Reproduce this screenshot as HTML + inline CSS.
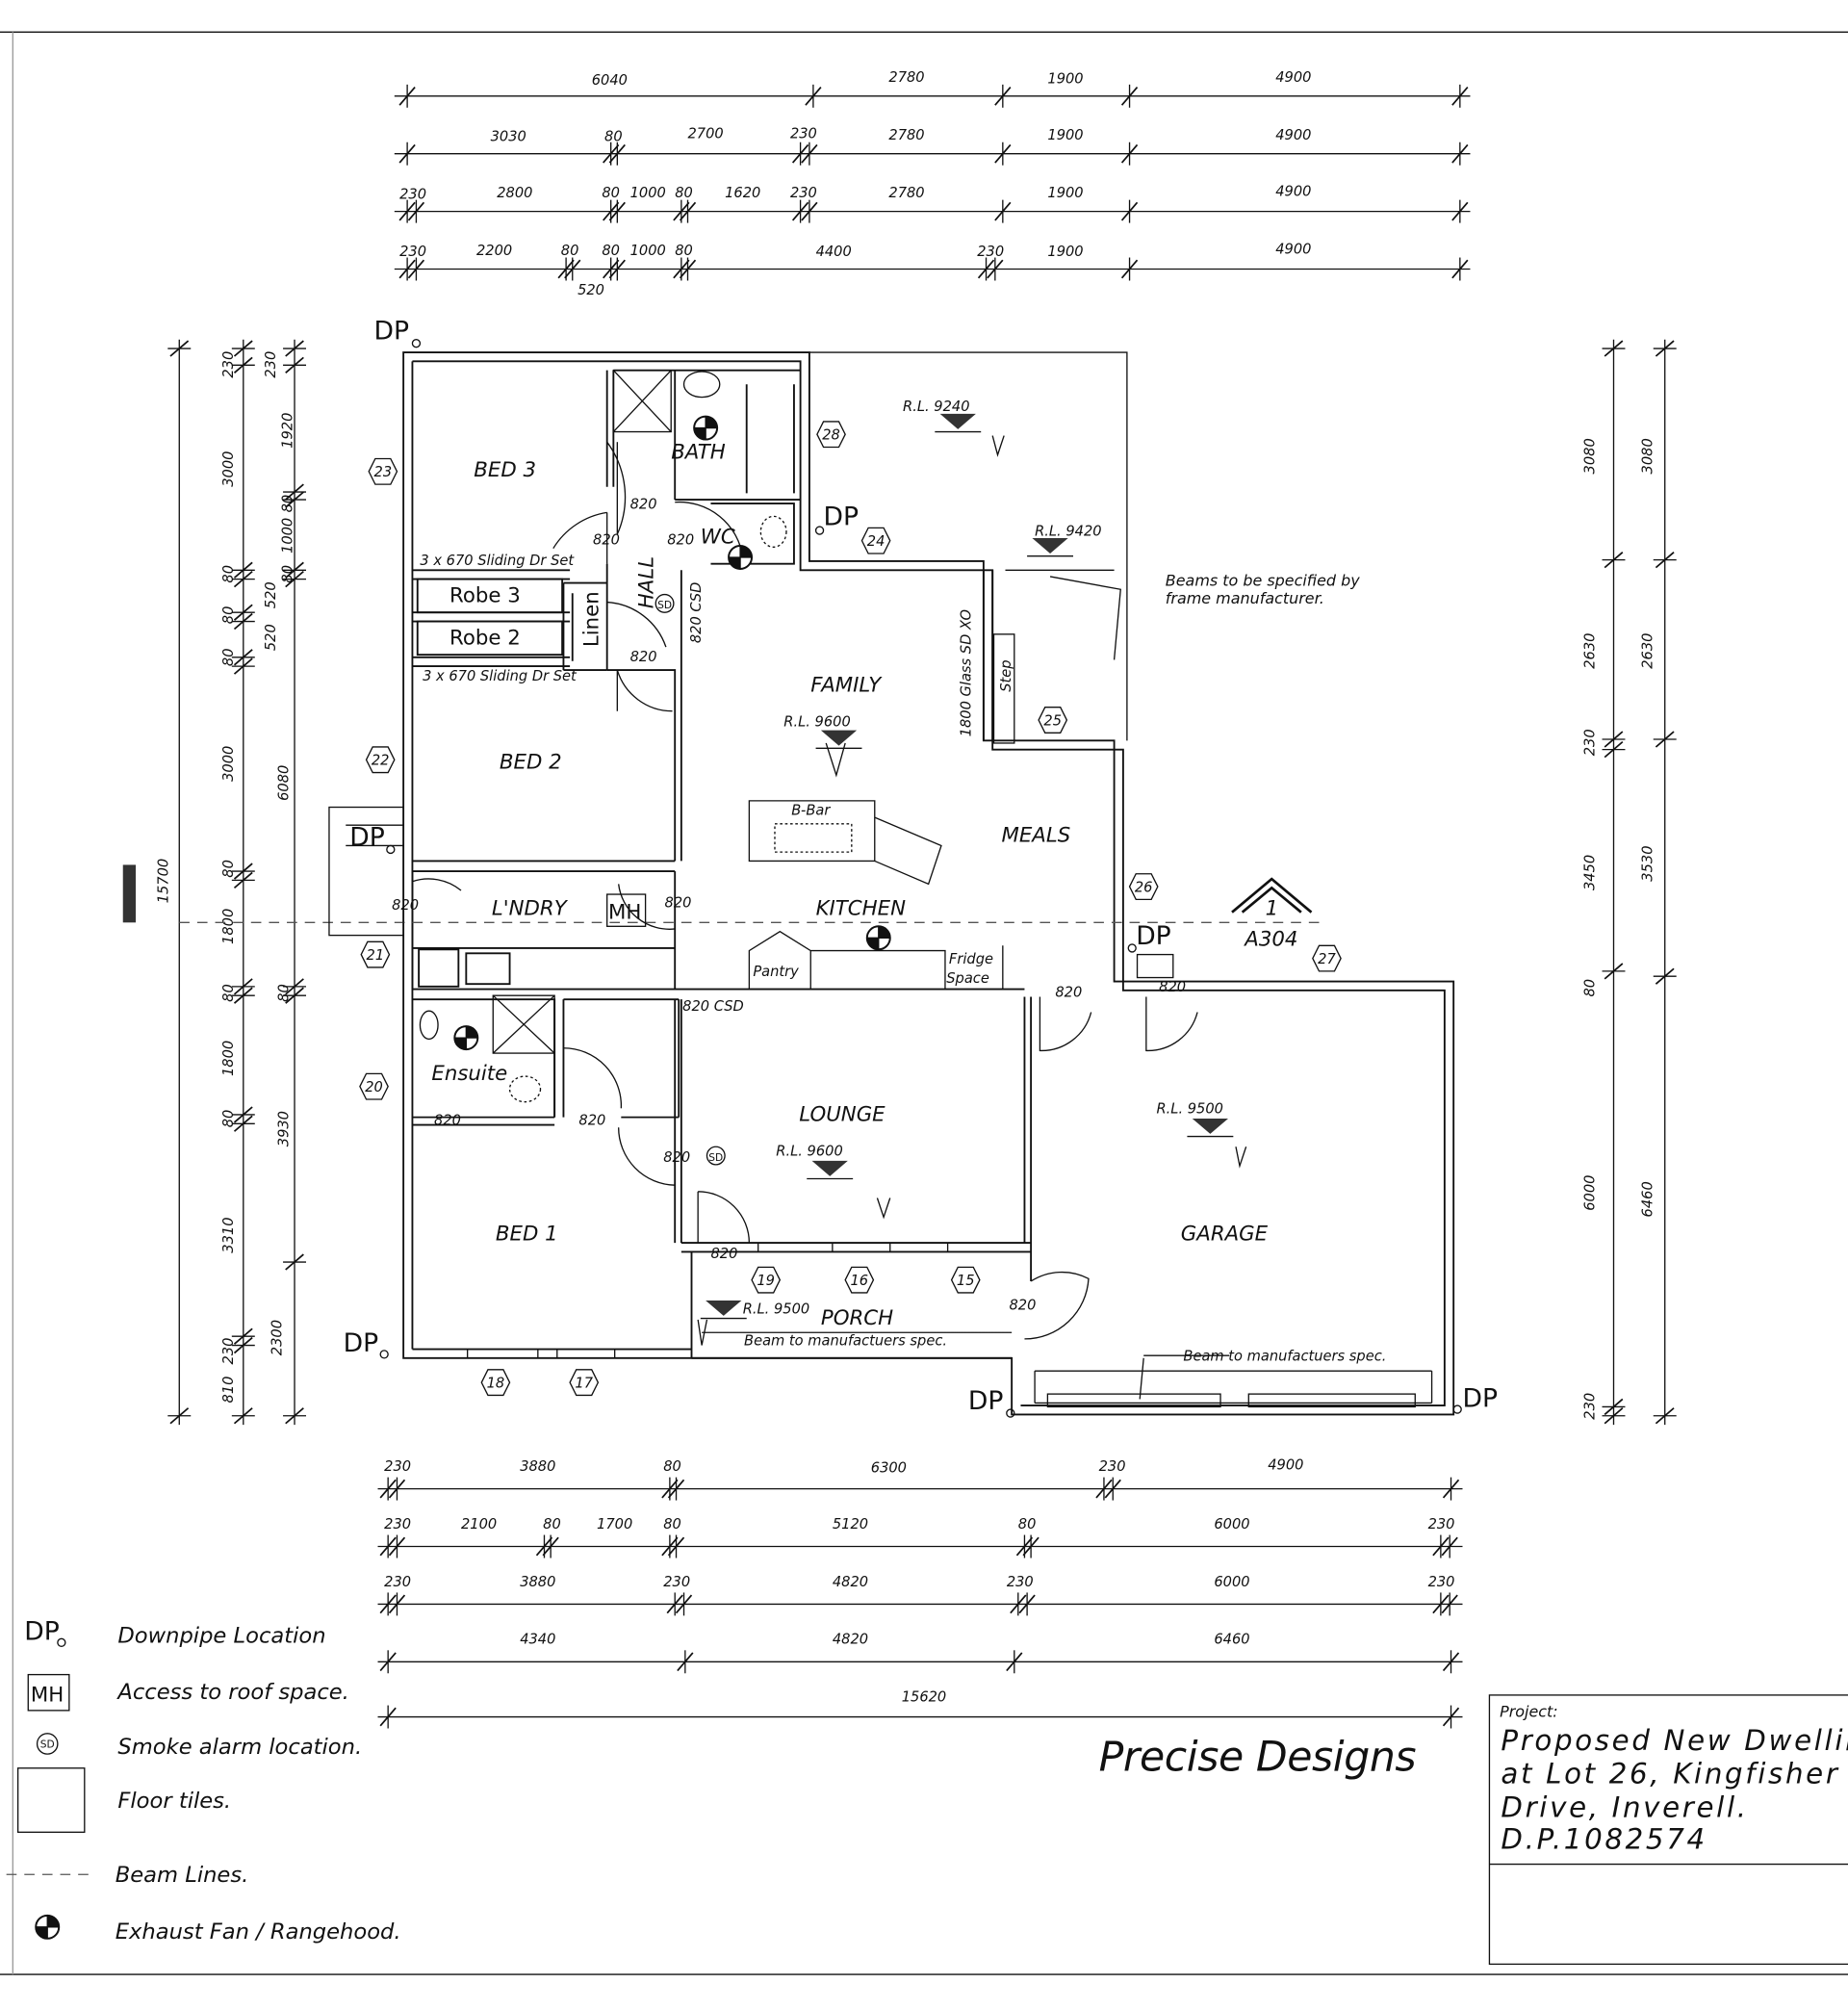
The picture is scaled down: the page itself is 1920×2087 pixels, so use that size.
<!DOCTYPE html>
<html><head><meta charset="utf-8"><style>
html,body{margin:0;padding:0;background:#fff}
svg{display:block}
text{font-family:"DejaVu Sans","Liberation Sans",sans-serif;fill:#111}
.d{font-size:11px;font-style:italic}
.r{font-size:16px;font-style:italic}
.s{font-size:11px;font-style:italic}
.l{font-size:17px;font-style:italic}
</style></head><body>
<svg width="1920" height="2087" viewBox="0 0 1443 1568" preserveAspectRatio="none" xmlns="http://www.w3.org/2000/svg">
<defs>
<g id="t"><line x1="-6" y1="7" x2="6" y2="-7" stroke="#111" stroke-width="1.3"/><line x1="0" y1="-9" x2="0" y2="9" stroke="#111" stroke-width="1"/></g>
<g id="tv"><line x1="-7" y1="6" x2="7" y2="-6" stroke="#111" stroke-width="1.3"/><line x1="-9" y1="0" x2="9" y2="0" stroke="#111" stroke-width="1"/></g>
<g id="hx"><polygon points="-6,-10 6,-10 11,0 6,10 -6,10 -11,0" fill="#fff" stroke="#111" stroke-width="1"/></g>
<g id="fan"><circle r="9" fill="#fff" stroke="#111" stroke-width="1.5"/><path d="M0,-9 A9,9 0 0 1 9,0 L0,0Z M0,9 A9,9 0 0 1 -9,0 L0,0Z" fill="#111"/><line x1="-9" y1="0" x2="9" y2="0" stroke="#111"/><line x1="0" y1="-9" x2="0" y2="9" stroke="#111"/></g>
<g id="rl"><polygon points="-14,0 14,0 0,12" fill="#333"/><line x1="-18" y1="14" x2="18" y2="14" stroke="#111"/></g>
</defs>
<g fill="none" stroke="#111">
<line x1="0" y1="25" x2="1443" y2="25" stroke-width="1"/>
<line x1="0" y1="1541" x2="1443" y2="1541"/>
<line x1="10" y1="25" x2="10" y2="1541" stroke="#999"/>
<!-- top dims -->
<line x1="308" y1="75" x2="1148" y2="75"/><line x1="308" y1="120" x2="1148" y2="120"/>
<line x1="308" y1="165" x2="1148" y2="165"/><line x1="308" y1="210" x2="1148" y2="210"/>
<!-- bottom dims -->
<line x1="295" y1="1162" x2="1142" y2="1162"/><line x1="295" y1="1207" x2="1142" y2="1207"/>
<line x1="295" y1="1252" x2="1142" y2="1252"/><line x1="295" y1="1297" x2="1142" y2="1297"/>
<line x1="295" y1="1340" x2="1142" y2="1340"/>
<!-- left/right verticals -->
<line x1="140" y1="265" x2="140" y2="1112"/><line x1="190" y1="265" x2="190" y2="1112"/><line x1="230" y1="265" x2="230" y2="1112"/>
<line x1="1260" y1="265" x2="1260" y2="1112"/><line x1="1300" y1="265" x2="1300" y2="1112"/>
</g>
<g>
<use href="#t" x="318" y="75"/><use href="#t" x="635" y="75"/><use href="#t" x="783" y="75"/><use href="#t" x="882" y="75"/><use href="#t" x="1140" y="75"/>
<use href="#t" x="318" y="120"/><use href="#t" x="477" y="120"/><use href="#t" x="482" y="120"/><use href="#t" x="625" y="120"/><use href="#t" x="632" y="120"/><use href="#t" x="783" y="120"/><use href="#t" x="882" y="120"/><use href="#t" x="1140" y="120"/>
<use href="#t" x="318" y="165"/><use href="#t" x="325" y="165"/><use href="#t" x="477" y="165"/><use href="#t" x="482" y="165"/><use href="#t" x="532" y="165"/><use href="#t" x="537" y="165"/><use href="#t" x="625" y="165"/><use href="#t" x="632" y="165"/><use href="#t" x="783" y="165"/><use href="#t" x="882" y="165"/><use href="#t" x="1140" y="165"/>
<use href="#t" x="318" y="210"/><use href="#t" x="325" y="210"/><use href="#t" x="442" y="210"/><use href="#t" x="447" y="210"/><use href="#t" x="477" y="210"/><use href="#t" x="482" y="210"/><use href="#t" x="532" y="210"/><use href="#t" x="537" y="210"/><use href="#t" x="770" y="210"/><use href="#t" x="777" y="210"/><use href="#t" x="882" y="210"/><use href="#t" x="1140" y="210"/>
<use href="#t" x="303" y="1162"/><use href="#t" x="310" y="1162"/><use href="#t" x="523" y="1162"/><use href="#t" x="528" y="1162"/><use href="#t" x="862" y="1162"/><use href="#t" x="869" y="1162"/><use href="#t" x="1133" y="1162"/>
<use href="#t" x="303" y="1207"/><use href="#t" x="310" y="1207"/><use href="#t" x="425" y="1207"/><use href="#t" x="430" y="1207"/><use href="#t" x="523" y="1207"/><use href="#t" x="528" y="1207"/><use href="#t" x="800" y="1207"/><use href="#t" x="805" y="1207"/><use href="#t" x="1125" y="1207"/><use href="#t" x="1132" y="1207"/>
<use href="#t" x="303" y="1252"/><use href="#t" x="310" y="1252"/><use href="#t" x="527" y="1252"/><use href="#t" x="534" y="1252"/><use href="#t" x="795" y="1252"/><use href="#t" x="802" y="1252"/><use href="#t" x="1125" y="1252"/><use href="#t" x="1132" y="1252"/>
<use href="#t" x="303" y="1297"/><use href="#t" x="535" y="1297"/><use href="#t" x="792" y="1297"/><use href="#t" x="1133" y="1297"/>
<use href="#t" x="303" y="1340"/><use href="#t" x="1133" y="1340"/>
<use href="#tv" x="140" y="272"/><use href="#tv" x="140" y="1105"/>
<use href="#tv" x="190" y="272"/><use href="#tv" x="190" y="285"/><use href="#tv" x="190" y="445"/><use href="#tv" x="190" y="452"/><use href="#tv" x="190" y="478"/><use href="#tv" x="190" y="485"/><use href="#tv" x="190" y="513"/><use href="#tv" x="190" y="520"/><use href="#tv" x="190" y="680"/><use href="#tv" x="190" y="687"/><use href="#tv" x="190" y="770"/><use href="#tv" x="190" y="777"/><use href="#tv" x="190" y="870"/><use href="#tv" x="190" y="877"/><use href="#tv" x="190" y="1043"/><use href="#tv" x="190" y="1050"/><use href="#tv" x="190" y="1105"/>
<use href="#tv" x="230" y="272"/><use href="#tv" x="230" y="285"/><use href="#tv" x="230" y="384"/><use href="#tv" x="230" y="390"/><use href="#tv" x="230" y="445"/><use href="#tv" x="230" y="452"/><use href="#tv" x="230" y="770"/><use href="#tv" x="230" y="777"/><use href="#tv" x="230" y="985"/><use href="#tv" x="230" y="1105"/>
<use href="#tv" x="1260" y="272"/><use href="#tv" x="1260" y="437"/><use href="#tv" x="1260" y="577"/><use href="#tv" x="1260" y="585"/><use href="#tv" x="1260" y="758"/><use href="#tv" x="1260" y="1098"/><use href="#tv" x="1260" y="1105"/>
<use href="#tv" x="1300" y="272"/><use href="#tv" x="1300" y="437"/><use href="#tv" x="1300" y="577"/><use href="#tv" x="1300" y="762"/><use href="#tv" x="1300" y="1105"/>
</g>
<g class="d">
<text x="462" y="66">6040</text><text x="694" y="64">2780</text><text x="818" y="65">1900</text><text x="996" y="64">4900</text>
<text x="383" y="110">3030</text><text x="472" y="110">80</text><text x="537" y="108">2700</text><text x="617" y="108">230</text><text x="694" y="109">2780</text><text x="818" y="109">1900</text><text x="996" y="109">4900</text>
<text x="312" y="155">230</text><text x="388" y="154">2800</text><text x="470" y="154">80</text><text x="492" y="154">1000</text><text x="527" y="154">80</text><text x="566" y="154">1620</text><text x="617" y="154">230</text><text x="694" y="154">2780</text><text x="818" y="154">1900</text><text x="996" y="153">4900</text>
<text x="312" y="200">230</text><text x="372" y="199">2200</text><text x="438" y="199">80</text><text x="470" y="199">80</text><text x="492" y="199">1000</text><text x="527" y="199">80</text><text x="637" y="200">4400</text><text x="763" y="200">230</text><text x="818" y="200">1900</text><text x="996" y="198">4900</text><text x="451" y="230">520</text>
<text x="300" y="1148">230</text><text x="406" y="1148">3880</text><text x="518" y="1148">80</text><text x="680" y="1149">6300</text><text x="858" y="1148">230</text><text x="990" y="1147">4900</text>
<text x="300" y="1193">230</text><text x="360" y="1193">2100</text><text x="424" y="1193">80</text><text x="466" y="1193">1700</text><text x="518" y="1193">80</text><text x="650" y="1193">5120</text><text x="795" y="1193">80</text><text x="948" y="1193">6000</text><text x="1115" y="1193">230</text>
<text x="300" y="1238">230</text><text x="406" y="1238">3880</text><text x="518" y="1238">230</text><text x="650" y="1238">4820</text><text x="786" y="1238">230</text><text x="948" y="1238">6000</text><text x="1115" y="1238">230</text>
<text x="406" y="1283">4340</text><text x="650" y="1283">4820</text><text x="948" y="1283">6460</text><text x="704" y="1328">15620</text>
</g>
<g class="d">
<text transform="translate(131,705) rotate(-90)">15700</text>
<text transform="translate(182,295) rotate(-90)">230</text><text transform="translate(182,380) rotate(-90)">3000</text><text transform="translate(182,455) rotate(-90)">80</text><text transform="translate(182,487) rotate(-90)">80</text><text transform="translate(182,520) rotate(-90)">80</text><text transform="translate(182,610) rotate(-90)">3000</text><text transform="translate(182,685) rotate(-90)">80</text><text transform="translate(182,737) rotate(-90)">1800</text><text transform="translate(182,782) rotate(-90)">80</text><text transform="translate(182,840) rotate(-90)">1800</text><text transform="translate(182,880) rotate(-90)">80</text><text transform="translate(182,978) rotate(-90)">3310</text><text transform="translate(182,1065) rotate(-90)">230</text><text transform="translate(182,1095) rotate(-90)">810</text>
<text transform="translate(215,295) rotate(-90)">230</text><text transform="translate(228,350) rotate(-90)">1920</text><text transform="translate(228,400) rotate(-90)">80</text><text transform="translate(228,432) rotate(-90)">1000</text><text transform="translate(228,455) rotate(-90)">80</text><text transform="translate(215,475) rotate(-90)">520</text><text transform="translate(215,508) rotate(-90)">520</text><text transform="translate(225,625) rotate(-90)">6080</text><text transform="translate(225,782) rotate(-90)">80</text><text transform="translate(225,895) rotate(-90)">3930</text><text transform="translate(220,1058) rotate(-90)">2300</text>
<text transform="translate(1245,370) rotate(-90)">3080</text><text transform="translate(1290,370) rotate(-90)">3080</text><text transform="translate(1245,522) rotate(-90)">2630</text><text transform="translate(1290,522) rotate(-90)">2630</text><text transform="translate(1245,590) rotate(-90)">230</text><text transform="translate(1245,695) rotate(-90)">3450</text><text transform="translate(1290,688) rotate(-90)">3530</text><text transform="translate(1245,778) rotate(-90)">80</text><text transform="translate(1245,945) rotate(-90)">6000</text><text transform="translate(1290,950) rotate(-90)">6460</text><text transform="translate(1245,1108) rotate(-90)">230</text>
</g>
<rect x="96" y="675" width="10" height="45" fill="#333"/>
<!-- walls -->
<g fill="none" stroke="#111" stroke-width="1.4">
<path d="M315,275 H632 V438 H768 V578 H870 V766 H1135 V1104 H790 V1060 H315 Z"/>
<path d="M322,282 H625 V445 H775 V585 H877 V773 H1128 V1097 H797"/>
<line x1="322" y1="282" x2="322" y2="1053"/>
<line x1="322" y1="1053" x2="540" y2="1053"/>
<!-- deck outline -->
<path d="M632,275 H880 V578" stroke-width="1"/>
<!-- interior -->
<path d="M322,445 H445 M322,452 H445 M322,478 H445 M322,485 H445 M322,513 H445 M322,520 H445"/>
<path d="M474,289 V380 M479,289 V380 M474,440 V455 M474,455 V523 M440,455 H474 M440,523 H474 M440,455 V523 M447,463 V516"/>
<rect x="326" y="452" width="113" height="26"/><rect x="326" y="485" width="113" height="26"/>
<path d="M479,289 H625 M527,289 V390 M527,390 H625 M583,300 V385 M620,300 V385"/>
<path d="M555,393 H620 V440 H555"/>
<path d="M474,523 H527 V672 M532,445 V672 M322,672 H527 M322,680 H527"/>
<path d="M322,680 L322,772 M527,680 V772 M322,740 H527 M322,772 H800"/>
<path d="M327,741 H358 V770 H327Z M364,744 H398 V768 H364Z"/>
<path d="M322,780 H433 V872 M440,780 H530 M530,780 V872 M485,872 H530 M322,872 H433 M322,878 H433"/>
<path d="M433,780 V872 M440,780 V872"/>
<path d="M527,780 V970 M532,780 V970 M532,970 H805 M532,977 H805 M800,778 V970 M805,778 V1000"/>
<path d="M540,977 V1060 M540,1060 H790"/>
<path d="M768,445 V578 M775,445 V578"/>
<rect x="776" y="495" width="16" height="85" stroke-width="1"/>
</g>
<g fill="none" stroke="#111" stroke-width="1">
<!-- doors -->
<path d="M474,345 A72,72 0 0 1 482,417" /><path d="M482,345 V417"/>
<path d="M474,400 A60,60 0 0 0 432,428 M474,400 V440"/>
<path d="M527,392 A50,50 0 0 1 580,435"/>
<path d="M474,470 A52,52 0 0 1 520,505"/>
<path d="M482,523 A45,45 0 0 0 525,555 M482,523 V555"/>
<path d="M322,688 A40,40 0 0 1 360,695"/>
<path d="M483,690 A40,40 0 0 0 527,725"/>
<path d="M440,818 A45,45 0 0 1 485,865"/>
<path d="M483,880 A45,45 0 0 0 527,925"/>
<path d="M545,930 A40,40 0 0 1 585,970 M545,930 V970"/>
<path d="M812,778 V820 A40,40 0 0 0 852,790"/>
<path d="M895,778 V820 A40,40 0 0 0 935,790"/>
<path d="M805,1000 A45,45 0 0 1 850,998 A50,50 0 0 1 800,1045"/>
<!-- bath items -->
<rect x="479" y="289" width="45" height="48"/><path d="M479,289 L524,337 M524,289 L479,337"/>
<ellipse cx="548" cy="300" rx="14" ry="10"/>
<rect x="385" y="777" width="48" height="45"/><path d="M385,777 L433,822 M433,777 L385,822"/>
<ellipse cx="335" cy="800" rx="7" ry="11"/>
<ellipse cx="410" cy="850" rx="12" ry="10" stroke-dasharray="2,2"/>
<ellipse cx="604" cy="415" rx="10" ry="12" stroke-dasharray="2,2"/>
<!-- kitchen -->
<path d="M585,625 H683 V672 H585 Z"/><path d="M683,638 L735,660 L725,690 L683,672"/>
<rect x="605" y="643" width="60" height="22" stroke-dasharray="2,2"/>
<path d="M585,742 V772 H633 V742 L609,727 Z"/><path d="M633,742 H738 V772 M738,742 V772 H783 V738"/>
<!-- porch/garage windows -->
<path d="M365,1053 V1060 M420,1053 V1060 M435,1053 V1060 M480,1053 V1060"/>
<path d="M592,970 V977 M650,970 V977 M695,970 V977 M740,970 V977"/>
<rect x="808" y="1070" width="310" height="25" stroke-dasharray="1,0"/>
<rect x="818" y="1088" width="135" height="10"/><rect x="975" y="1088" width="130" height="10"/>
<path d="M548,1040 H790" stroke-dasharray="1,0"/>
<!-- beam lines -->
<line x1="140" y1="720" x2="1030" y2="720" stroke-dasharray="8,6" stroke="#555"/>
<path d="M785,445 H870 M820,450 L875,460 L870,515" />
<!-- DP step-out -->
<rect x="257" y="630" width="58" height="100" />
<path d="M270,644 H315 M270,660 H315"/>
<rect x="888" y="745" width="28" height="18"/>
<!-- section arrow -->
<path d="M962,712 L993,686 L1024,712 M970,712 L993,693 L1016,712" stroke-width="2"/>
<!-- arrows -->
<path d="M775,340 L779,355 L784,340 M645,580 L653,605 L660,580 M685,935 L690,950 L695,935 M965,895 L968,910 L973,895 M545,1030 L548,1050 L552,1030"/>
<path d="M893,1060 L890,1092 M893,1058 L960,1058"/>
</g>
<g>
<use href="#rl" x="748" y="323"/><use href="#rl" x="820" y="420"/><use href="#rl" x="655" y="570"/><use href="#rl" x="648" y="906"/><use href="#rl" x="945" y="873"/><use href="#rl" x="565" y="1015"/>
<use href="#fan" x="551" y="334"/><use href="#fan" x="578" y="435"/><use href="#fan" x="686" y="732"/><use href="#fan" x="364" y="810"/>
<use href="#hx" x="299" y="368"/><use href="#hx" x="649" y="339"/><use href="#hx" x="684" y="422"/><use href="#hx" x="822" y="562"/><use href="#hx" x="297" y="593"/><use href="#hx" x="893" y="692"/><use href="#hx" x="293" y="745"/><use href="#hx" x="1036" y="748"/><use href="#hx" x="292" y="848"/><use href="#hx" x="598" y="999"/><use href="#hx" x="671" y="999"/><use href="#hx" x="754" y="999"/><use href="#hx" x="387" y="1079"/><use href="#hx" x="456" y="1079"/>
</g>
<g font-size="11" font-style="italic" text-anchor="middle">
<text x="299" y="372">23</text><text x="649" y="343">28</text><text x="684" y="426">24</text><text x="822" y="566">25</text><text x="297" y="597">22</text><text x="893" y="696">26</text><text x="293" y="749">21</text><text x="1036" y="752">27</text><text x="292" y="852">20</text><text x="598" y="1003">19</text><text x="671" y="1003">16</text><text x="754" y="1003">15</text><text x="387" y="1083">18</text><text x="456" y="1083">17</text>
</g>
<g fill="none" stroke="#111"><circle cx="325" cy="268" r="3"/><circle cx="305" cy="663" r="3"/><circle cx="640" cy="414" r="3"/><circle cx="884" cy="740" r="3"/><circle cx="300" cy="1057" r="3"/><circle cx="789" cy="1103" r="3"/><circle cx="1138" cy="1100" r="3"/><circle cx="519" cy="471" r="7"/><circle cx="559" cy="902" r="7"/></g>
<g font-size="20" font-family="Liberation Sans,sans-serif">
<text x="292" y="265">DP</text><text x="273" y="660">DP</text><text x="643" y="410">DP</text><text x="887" y="737">DP</text><text x="268" y="1055">DP</text><text x="756" y="1100">DP</text><text x="1142" y="1098">DP</text>
</g>
<g class="r">
<text x="370" y="372">BED 3</text><text x="524" y="358">BATH</text><text x="547" y="424">WC</text><text x="633" y="540">FAMILY</text><text x="390" y="600">BED 2</text><text x="782" y="657">MEALS</text><text x="384" y="714">L'NDRY</text><text x="637" y="714">KITCHEN</text><text x="337" y="843">Ensuite</text><text x="624" y="875">LOUNGE</text><text x="387" y="968">BED 1</text><text x="922" y="968">GARAGE</text><text x="641" y="1034">PORCH</text><text x="972" y="738">A304</text><text x="988" y="714">1</text>
</g>
<g font-size="16"><text x="351" y="470">Robe 3</text><text x="351" y="503">Robe 2</text>
<text transform="translate(467,505) rotate(-90)">Linen</text><text transform="translate(510,475) rotate(-90)" font-style="italic">HALL</text>
<rect x="474" y="698" width="30" height="25" fill="none" stroke="#111"/><text x="475" y="717">MH</text></g>
<g class="s">
<text x="328" y="441">3 x 670 Sliding Dr Set</text><text x="330" y="531">3 x 670 Sliding Dr Set</text>
<text x="492" y="397">820</text><text x="463" y="425">820</text><text x="521" y="425">820</text><text x="492" y="516">820</text><text transform="translate(547,502) rotate(-90)">820 CSD</text>
<text x="306" y="710">820</text><text x="519" y="708">820</text><text x="533" y="789">820 CSD</text><text x="824" y="778">820</text><text x="905" y="774">820</text>
<text x="339" y="878">820</text><text x="452" y="878">820</text><text x="518" y="907">820</text><text x="555" y="982">820</text><text x="788" y="1022">820</text>
<text x="705" y="321">R.L. 9240</text><text x="808" y="418">R.L. 9420</text><text x="612" y="567">R.L. 9600</text><text x="606" y="902">R.L. 9600</text><text x="903" y="869">R.L. 9500</text><text x="580" y="1025">R.L. 9500</text>
<text x="618" y="636">B-Bar</text><text x="588" y="762">Pantry</text><text x="741" y="752">Fridge</text><text x="739" y="767">Space</text>
<text transform="translate(758,575) rotate(-90)">1800 Glass SD XO</text><text transform="translate(789,540) rotate(-90)">Step</text>
<text x="910" y="457" font-size="12">Beams to be specified by</text><text x="910" y="471" font-size="12">frame manufacturer.</text>
<text x="581" y="1050">Beam to manufactuers spec.</text><text x="924" y="1062">Beam to manufactuers spec.</text>
<text x="559" y="906" font-size="8" font-style="normal" text-anchor="middle">SD</text><text x="519" y="475" font-size="8" font-style="normal" text-anchor="middle">SD</text>
</g>
<!-- legend -->
<g class="l">
<text x="19" y="1280" font-style="normal" font-size="20">DP</text><text x="92" y="1282">Downpipe Location</text>
<rect x="22" y="1307" width="32" height="28" fill="none" stroke="#111"/><text x="24" y="1328" font-style="normal" font-size="16">MH</text><text x="92" y="1326">Access to roof space.</text>
<circle cx="37" cy="1361" r="8" fill="none" stroke="#111"/><text x="37" y="1364" font-size="8" font-style="normal" text-anchor="middle">SD</text><text x="92" y="1369">Smoke alarm location.</text>
<rect x="14" y="1380" width="52" height="50" fill="none" stroke="#111"/><text x="92" y="1411">Floor tiles.</text>
<line x1="5" y1="1463" x2="75" y2="1463" stroke="#555" stroke-dasharray="8,6"/><text x="90" y="1469">Beam Lines.</text>
<text x="90" y="1513">Exhaust Fan / Rangehood.</text>
</g>
<circle cx="48" cy="1282" r="3" fill="none" stroke="#111"/>
<use href="#fan" x="37" y="1504"/>
<text x="858" y="1382" font-size="32" font-style="italic" font-family="Liberation Serif,serif" textLength="248">Precise Designs</text>
<!-- title block -->
<rect x="1163" y="1323" width="290" height="210" fill="none" stroke="#111"/>
<line x1="1163" y1="1455" x2="1443" y2="1455" stroke="#111"/>
<g font-style="italic" font-family="Liberation Sans,sans-serif">
<text x="1171" y="1340" font-size="12">Project:</text>
<text x="1172" y="1366" font-size="22" letter-spacing="2">Proposed  New  Dwelling</text>
<text x="1172" y="1392" font-size="22" letter-spacing="2">at  Lot  26,  Kingfisher</text>
<text x="1172" y="1418" font-size="22" letter-spacing="2">Drive,  Inverell.</text>
<text x="1172" y="1443" font-size="22" letter-spacing="2">D.P.1082574</text>
</g>
</svg>
</body></html>
